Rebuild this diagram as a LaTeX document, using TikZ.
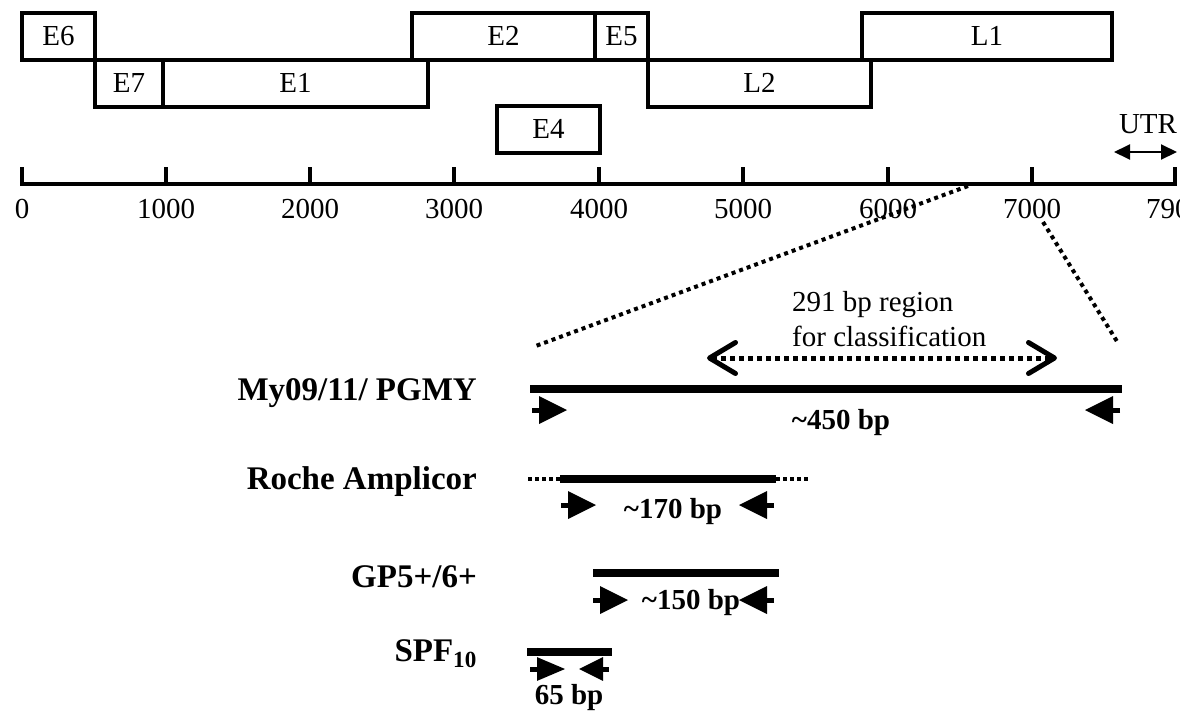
\documentclass[tikz,border=0pt]{standalone}
\usepackage{fontspec}
\setmainfont{Liberation Serif}
\usepackage{tikz}
\usetikzlibrary{arrows.meta}

\begin{document}
\begin{tikzpicture}[x=1pt,y=-1pt,>=Stealth,
genebox/.style={draw,line width=4pt,minimum height=47pt,inner sep=0pt,font=\fontsize{29}{34}\selectfont},
axis/.style={line width=4pt},
ticklbl/.style={font=\fontsize{29}{34}\selectfont,inner sep=0pt},
txt/.style={font=\fontsize{29}{34}\selectfont,inner sep=0pt},
lbl/.style={font=\fontsize{33}{38}\selectfont\bfseries,inner sep=0pt},
bplbl/.style={font=\fontsize{29}{34}\selectfont\bfseries,inner sep=0pt},
zoomline/.style={line width=4pt,dash pattern=on 4pt off 4pt},
ampbar/.style={line width=8.5pt},
flank/.style={line width=4pt,dash pattern=on 4pt off 3pt},
regarrow/.style={line width=5pt,dash pattern=on 5pt off 4pt,
  {Straight Barb[length=26pt,width=31pt,round]}-{Straight Barb[length=26pt,width=31pt,round]}},
utrarrow/.style={line width=2pt,{Triangle[length=16pt,width=15pt]}-{Triangle[length=16pt,width=15pt]}},
fwdprimer/.pic={\fill (0,-14)--(28,0)--(0,14)--cycle; \draw[line width=5pt](-7,0)--(0.5,0);},
revprimer/.pic={\fill (0,-14)--(-28,0)--(0,14)--cycle; \draw[line width=5pt](7,0)--(-0.5,0);}]
\useasboundingbox (0,0) rectangle (1180,718);
\clip (0,0) rectangle (1180,718);
% genome map
\node[genebox,minimum width=73pt] (E6) at (58.5,36) {E6};
\node[genebox,minimum width=68pt] (E7) at (129,83) {E7};
\node[genebox,minimum width=265pt] (E1) at (295.5,83) {E1};
\node[genebox,minimum width=183pt] (E2) at (503.5,36) {E2};
\node[genebox,minimum width=53pt] (E5) at (621.5,36) {E5};
\node[genebox,minimum width=223pt] (L2) at (759.5,83) {L2};
\node[genebox,minimum width=250pt] (L1) at (987,36) {L1};
\node[genebox,minimum width=103pt] (E4) at (548.5,129) {E4};
% scale
\draw[axis](22,167)--(22,184)--(1175,184)--(1175,167);
\draw[axis](166,184)--(166,167) (310,184)--(310,167) (454,184)--(454,167)
(599,184)--(599,167) (743,184)--(743,167) (888,184)--(888,167) (1032,184)--(1032,167);
\draw(22,209)node[ticklbl](t0){0}
(166,209)node[ticklbl](t1){1000}
(310,209)node[ticklbl](t2){2000}
(454,209)node[ticklbl](t3){3000}
(599,209)node[ticklbl](t4){4000}
(743,209)node[ticklbl](t5){5000}
(888,209)node[ticklbl](t6){6000}
(1032,209)node[ticklbl](t7){7000}
(1175,209)node[ticklbl](t8){7904};
\node[txt,anchor=base](utr) at (1148,133){UTR};
\coordinate (utr1) at (1114,152);
\coordinate (utr2) at (1177,152);
\draw[utrarrow](utr1)--(utr2);
% zoom
\coordinate (zl1) at (968,186);
\coordinate (zl2) at (533,347);
\coordinate (zr1) at (1043,222);
\coordinate (zr2) at (1118,343);
\draw[zoomline](zl1)--(zl2);
\draw[zoomline](zr1)--(zr2);
\node[txt,anchor=base west](reg1) at (792,311){291 bp region};
\node[txt,anchor=base west](reg2) at (792,346){for classification};
\coordinate (rg1) at (707,358);
\coordinate (rg2) at (1057,358);
\draw[regarrow](rg1)--(rg2);
% amplicons
\node[lbl,anchor=base east](my) at (477,400){My09/11/ PGMY};
\node[lbl,anchor=base east](roche) at (477,489){Roche Amplicor};
\node[lbl,anchor=base east](gp) at (477,587){GP5+/6+};
\node[lbl,anchor=base east](spf) at (477,661){SPF\textsubscript{10}};
\coordinate (my1) at (530,389);
\coordinate (my2) at (1122,389);
\draw[ampbar](my1)--(my2);
\pic at (539,410){fwdprimer};
\pic at (1113,410){revprimer};
\node[bplbl,anchor=base](mybp) at (841,429){\textasciitilde450 bp};
\coordinate (ro0) at (528,479);
\coordinate (ro1) at (560,479);
\coordinate (ro2) at (776,479);
\coordinate (ro3) at (808,479);
\draw[flank](ro0)--(ro1);
\draw[flank](ro2)--(ro3);
\draw[ampbar](ro1)--(ro2);
\pic at (568,505){fwdprimer};
\pic at (767,505){revprimer};
\node[bplbl,anchor=base](robp) at (673,518){\textasciitilde170 bp};
\coordinate (gp1) at (593,573);
\coordinate (gp2) at (779,573);
\draw[ampbar](gp1)--(gp2);
\pic at (600,600){fwdprimer};
\pic at (767,600){revprimer};
\node[bplbl,anchor=base](gpbp) at (691,609){\textasciitilde150 bp};
\coordinate (spf1) at (527,652);
\coordinate (spf2) at (612,652);
\draw[ampbar](spf1)--(spf2);
\pic[yscale=0.85] at (537,669){fwdprimer};
\pic[yscale=0.85,xscale=0.85] at (603,669){revprimer};
\node[bplbl,anchor=base](spfbp) at (569,704){65 bp};
\end{tikzpicture}
\end{document}
